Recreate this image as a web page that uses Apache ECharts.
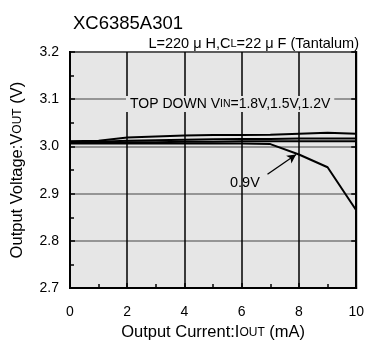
<!DOCTYPE html>
<html><head><meta charset="utf-8">
<script src="https://cdn.jsdelivr.net/npm/echarts@6/dist/echarts.min.js"></script>
<style>html,body{margin:0;padding:0;background:#fff}#c{width:367px;height:346px}</style>
</head><body><div id="c"></div>
<script>
const currents = [0,1,2,3,4,5,6,7,8,9,10];
const vin18 = [3.011,3.012,3.019,3.021,3.023,3.024,3.024,3.025,3.027,3.029,3.027];
const vin15 = [3.010,3.010,3.012,3.013,3.014,3.015,3.016,3.016,3.017,3.017,3.017];
const vin12 = [3.008,3.008,3.009,3.009,3.010,3.010,3.011,3.011,3.011,3.011,3.011];
const vin09 = [3.006,3.006,3.006,3.006,3.006,3.006,3.006,3.005,2.983,2.956,2.865];
const xTicks = [0,2,4,6,8,10];
const yTicks = [2.7,2.8,2.9,3.0,3.1,3.2];

const FONT = 'Liberation Sans, Arial, sans-serif';
const chart = echarts.init(document.getElementById('c'));
function mk(name, vals){
  return {name, type:'line', data: currents.map((x,i)=>[x, vals[i]]), symbol:'none',
    lineStyle:{color:'#000', width:2}, z:5};
}
const s09 = mk('0.9V', vin09);
s09.markLine = {silent:true, symbol:['none','arrow'], symbolSize:[7,9],
  lineStyle:{color:'#000', width:1.3, type:'solid'}, label:{show:false},
  data:[[{coord:[6.9,2.941]},{coord:[7.9,2.983]}]]};
chart.setOption({
  animation:false,
  textStyle:{fontFamily:FONT},
  grid:{left:70, right:10, top:52, bottom:56, show:true, backgroundColor:'#e6e6e6', borderColor:'#000', borderWidth:2},
  title:[
    {text:'XC6385A301', left:68, top:9, textStyle:{fontFamily:FONT, fontSize:18.5, fontWeight:'normal', color:'#000'}},
    {text:'L=220 {m|μ} H,C{s|L}=22 {m|μ} F (Tantalum)', right:3, top:31,
     textStyle:{fontFamily:FONT, fontSize:14.5, fontWeight:'normal', color:'#000',
       rich:{m:{fontFamily:FONT,fontSize:14.5,color:'#000'}, s:{fontFamily:FONT,fontSize:11,color:'#000'}}}}
  ],
  xAxis:{type:'value', min:0, max:10, interval:2,
    name:'Output Current:I{s|OUT} (mA)', nameLocation:'middle', nameGap:28,
    nameTextStyle:{fontFamily:FONT, fontSize:16.5, color:'#000', rich:{s:{fontFamily:FONT,fontSize:12,color:'#000'}}},
    axisLine:{show:true, lineStyle:{color:'#000', width:2}},
    axisTick:{show:true, inside:true, length:5, lineStyle:{color:'#000', width:1.5}},
    minorTick:{show:true, splitNumber:2, length:4, lineStyle:{color:'#000', width:1.5}},
    axisLabel:{fontFamily:FONT, fontSize:14, color:'#000', margin:17,
      formatter:v=> xTicks.includes(v) ? String(v) : ''},
    splitLine:{show:true, lineStyle:{color:'#000', width:1.5}}
  },
  yAxis:[{type:'value', min:2.7, max:3.2, interval:0.1,
    name:'Output Voltage:V{s|OUT} (V)', nameLocation:'middle', nameGap:44,
    nameTextStyle:{fontFamily:FONT, fontSize:16.5, color:'#000', rich:{s:{fontFamily:FONT,fontSize:12,color:'#000'}}},
    axisLine:{show:true, lineStyle:{color:'#000', width:2}},
    axisTick:{show:true, inside:true, length:5, lineStyle:{color:'#000', width:1.5}},
    minorTick:{show:true, splitNumber:2, length:4, lineStyle:{color:'#000', width:1.5}},
    axisLabel:{fontFamily:FONT, fontSize:14, color:'#000', margin:11,
      formatter:v=> { const t = yTicks.find(k=>Math.abs(k-v)<1e-6); return t!==undefined ? t.toFixed(1) : ''; }},
    splitLine:{show:true, lineStyle:{color:'#7a7a7a', width:1.5}}
  },{type:'value', min:2.7, max:3.2, interval:0.1, position:'right',
    axisLine:{show:true, lineStyle:{color:'#000', width:2}},
    axisTick:{show:true, inside:true, length:5, lineStyle:{color:'#000', width:1.5}},
    axisLabel:{show:false}, splitLine:{show:false}
  }],
  graphic:[
    {type:'text', left:126, top:96, z:3, style:{
      text:'TOP DOWN V{s|IN}=1.8V,1.5V,1.2V', fill:'#000', font:'14px '+FONT,
      backgroundColor:'#e6e6e6', padding:[1,4],
      rich:{s:{fontFamily:FONT, fontSize:10.5, fill:'#000'}}}},
    {type:'text', left:230, top:175, z:3, style:{text:'0.9V', fill:'#000', font:'14.5px '+FONT}}
  ],
  series:[mk('1.8V', vin18), mk('1.5V', vin15), mk('1.2V', vin12), s09]
});
</script></body></html>
